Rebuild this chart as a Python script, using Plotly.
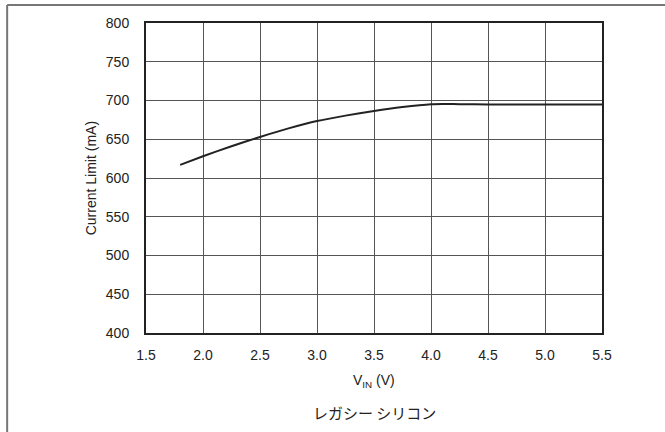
import plotly.graph_objects as go

vin = [1.8, 2.0, 2.25, 2.5, 2.75, 3.0, 3.25, 3.5, 3.75, 4.0, 4.1, 4.25, 4.5, 5.0, 5.5]
current = [617, 628, 641, 653, 664, 673.5, 680.5, 686.5, 691.5, 695.2, 695.6, 695.3, 695, 695, 695]

x_ticks = [1.5, 2.0, 2.5, 3.0, 3.5, 4.0, 4.5, 5.0, 5.5]
x_tick_labels = ["1.5", "2.0", "2.5", "3.0", "3.5", "4.0", "4.5", "5.0", "5.5"]
y_ticks = [400, 450, 500, 550, 600, 650, 700, 750, 800]

fig = go.Figure()
fig.add_trace(go.Scatter(
    x=vin, y=current, mode="lines",
    line=dict(color="#222222", width=2, shape="spline", smoothing=0.6),
    hoverinfo="skip", showlegend=False,
))

font_ticks = dict(family="Liberation Sans, Arial, sans-serif", size=14, color="#222222")

fig.update_layout(
    width=665, height=432,
    margin=dict(l=146, r=63, t=23, b=99),
    paper_bgcolor="white", plot_bgcolor="white",
    xaxis=dict(
        range=[1.5, 5.5], tickvals=x_ticks, ticktext=x_tick_labels,
        showgrid=True, gridcolor="#555555", gridwidth=1,
        showline=True, linecolor="#222222", linewidth=2, mirror=True,
        ticks="", tickfont=font_ticks, ticklabelstandoff=8, zeroline=False,
    ),
    yaxis=dict(
        range=[400, 800], tickvals=y_ticks,
        showgrid=True, gridcolor="#555555", gridwidth=1,
        showline=True, linecolor="#222222", linewidth=2, mirror=True,
        ticks="", tickfont=font_ticks, ticklabelstandoff=12, zeroline=False,
    ),
    shapes=[
        dict(type="line", xref="paper", yref="paper", x0=-0.3045, x1=1.14, y0=1.0583, y1=1.0583,
             line=dict(color="#777777", width=2)),
        dict(type="line", xref="paper", yref="paper", x0=-0.3045, x1=-0.3045, y0=1.0583, y1=-0.32,
             line=dict(color="#777777", width=2)),
    ],
    annotations=[
        dict(text="Current Limit (mA)", xref="paper", yref="paper", x=-0.12, y=0.5,
             textangle=-90, showarrow=False, xanchor="center", yanchor="middle",
             font=dict(family="Liberation Sans, Arial, sans-serif", size=14, color="#222222")),
        dict(text="V<sub>IN</sub> (V)", xref="paper", yref="paper", x=0.5, y=-0.155,
             showarrow=False, xanchor="center", yanchor="middle",
             font=dict(family="Liberation Sans, Arial, sans-serif", size=14, color="#222222")),
        dict(text="レガシー シリコン", xref="paper", yref="paper", x=0.5, y=-0.255,
             showarrow=False, xanchor="center", yanchor="middle",
             font=dict(family="Noto Sans CJK JP", size=15, color="#222222")),
    ],
)

fig.write_html(
    "out.html",
    config={"displayModeBar": False, "staticPlot": True},
    post_script="document.body.style.margin='0';document.body.style.overflow='hidden';",
)
